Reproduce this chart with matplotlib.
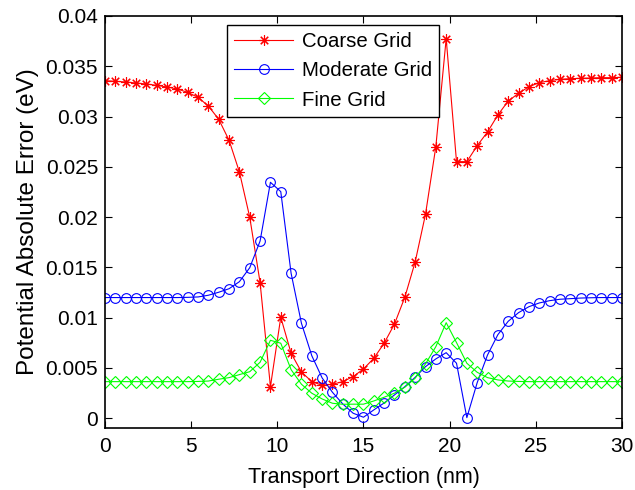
import numpy as np
import matplotlib
matplotlib.use("Agg")
import matplotlib.pyplot as plt
from matplotlib.ticker import FormatStrFormatter

# transport direction grid (nm), 51 points
x_nm = np.linspace(0, 30, 51)

coarse = [0.03356, 0.0335, 0.03343, 0.03333, 0.03323, 0.0331, 0.03293, 0.03273, 0.0324, 0.0319,
          0.03104, 0.02972, 0.02763, 0.02448, 0.01998, 0.01348, 0.00314, 0.01004, 0.00646, 0.0046,
          0.00364, 0.00328, 0.00338, 0.00364, 0.00414, 0.0049, 0.00596, 0.00746, 0.00937, 0.01203,
          0.01554, 0.02028, 0.027, 0.03774, 0.02551, 0.02551, 0.0271, 0.02846, 0.03015, 0.03154,
          0.0323, 0.03296, 0.03336, 0.03356, 0.0337, 0.03376, 0.0338, 0.03383, 0.03386, 0.03386,
          0.0339]

moderate = [0.012, 0.012, 0.012, 0.012, 0.012, 0.012, 0.012, 0.012, 0.01202, 0.01206,
            0.01223, 0.01253, 0.01288, 0.01358, 0.01497, 0.01762, 0.02346, 0.02253, 0.01441, 0.00944,
            0.00622, 0.00401, 0.00258, 0.00142, 0.0005, 0.0001, 0.00083, 0.00152, 0.00232, 0.00314,
            0.00407, 0.00513, 0.0059, 0.00652, 0.00547, 0.00006, 0.00354, 0.00629, 0.00831, 0.00964,
            0.0105, 0.01109, 0.01146, 0.01169, 0.01183, 0.01189, 0.01195, 0.01198, 0.012, 0.012,
            0.012]

fine = [0.00364, 0.00364, 0.00364, 0.00364, 0.00364, 0.00364, 0.00364, 0.00364, 0.00364, 0.00366,
        0.0037, 0.00388, 0.00404, 0.00434, 0.00463, 0.00557, 0.00775, 0.00746, 0.00483, 0.00338,
        0.00249, 0.00192, 0.00149, 0.00139, 0.0014, 0.0014, 0.00172, 0.00209, 0.00249, 0.00308,
        0.00398, 0.0054, 0.00712, 0.0095, 0.00752, 0.00547, 0.00457, 0.00404, 0.00381, 0.0037,
        0.00366, 0.00364, 0.00364, 0.00364, 0.00364, 0.00364, 0.00364, 0.00364, 0.00364, 0.00364,
        0.00364]

labels = ["Coarse Grid", "Moderate Grid", "Fine Grid"]
x_ticks = [0, 5, 10, 15, 20, 25, 30]
y_ticks = [0, 0.005, 0.01, 0.015, 0.02, 0.025, 0.03, 0.035, 0.04]

plt.rcParams['font.family'] = ['Liberation Sans', 'DejaVu Sans']
fs = 15

fig = plt.figure(figsize=(6.35, 4.9), dpi=100)
ax = fig.add_axes([0.1654, 0.1259, 0.814, 0.8416])

ax.plot(x_nm, coarse, color='#ff0000', lw=0.8, marker=(8, 2, 0), ms=7.5, mew=0.8, label=labels[0])
ax.plot(x_nm, moderate, color='#0000ff', lw=0.8, marker='o', ms=7, mfc='none', mew=0.8, label=labels[1])
ax.plot(x_nm, fine, color='#00ff00', lw=0.8, marker='D', ms=6, mfc='none', mew=0.8, label=labels[2])

ax.set_xlim(0, 30)
ax.set_ylim(-0.001, 0.04)
ax.set_xticks(x_ticks)
ax.set_yticks(y_ticks)
ax.yaxis.set_major_formatter(FormatStrFormatter('%g'))
ax.tick_params(direction='in', top=True, right=True, length=5, width=0.8, labelsize=fs)
ax.tick_params(axis='x', pad=6)
ax.tick_params(axis='y', pad=5)
for s in ax.spines.values():
    s.set_linewidth(1.2)

ax.set_xlabel("Transport Direction (nm)", fontsize=15.5, labelpad=8)
ax.set_ylabel("Potential Absolute Error (eV)", fontsize=17.5, labelpad=5)

leg = ax.legend(loc='upper left', bbox_to_anchor=(0.236, 0.978), fancybox=False,
                edgecolor='black', framealpha=1, borderpad=0.35, labelspacing=0.5,
                handlelength=2.9, handletextpad=0.4, borderaxespad=0, fontsize=14.7)
leg.get_frame().set_linewidth(1.0)

fig.savefig("out.png", dpi=100)
